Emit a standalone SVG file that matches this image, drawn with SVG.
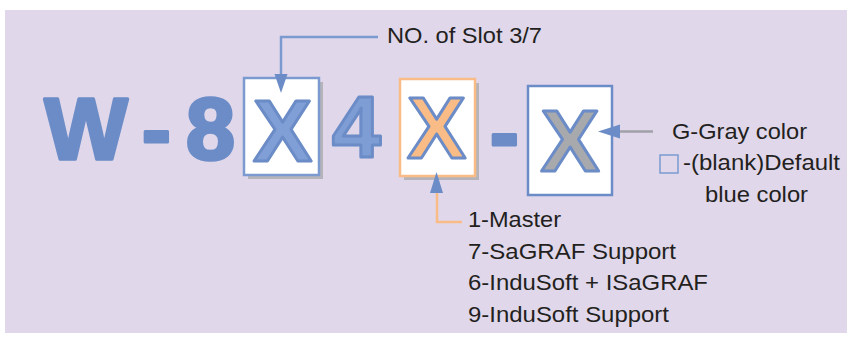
<svg xmlns="http://www.w3.org/2000/svg" width="847" height="340" viewBox="0 0 847 340">
<style>
.big{font-family:"Liberation Sans",Arial,sans-serif;font-weight:bold;font-size:88px;text-anchor:middle;stroke-linejoin:round}
.lbl{font-family:"Liberation Sans",Arial,sans-serif;font-size:22px;fill:#231f20}
.shadow{fill:#b4b4ba}
.box{fill:#ffffff;stroke-width:2.5}
.head{fill:#6b8cc7}
</style>
<rect x="0" y="0" width="847" height="340" fill="#ffffff"/>
<rect x="5" y="10" width="842" height="323" fill="#e0d7ea"/>
<g id="prefix">
<text class="big" x="86" y="159" fill="#6b8cc7" stroke="#6b8cc7" stroke-width="3.5">W</text>
<text class="big" x="156.5" y="159" fill="#6b8cc7" stroke="#6b8cc7" stroke-width="3">-</text>
<text class="big" x="210.5" y="159" fill="#6b8cc7" stroke="#6b8cc7" stroke-width="3.5">8</text>
</g>
<g id="slot-box">
<rect class="shadow" x="248" y="82" width="75" height="97"/>
<rect class="box" x="244" y="78" width="75" height="97" stroke="#7b9ad0"/>
<text class="big" x="282.5" y="161" fill="#809fd6" stroke="#6b8cc7" stroke-width="3">X</text>
</g>
<g id="four">
<text class="big" x="356.5" y="157" fill="#7e9dd4" stroke="#6b8cc7" stroke-width="3">4</text>
</g>
<g id="type-box">
<rect class="shadow" x="404" y="83" width="75" height="97"/>
<rect class="box" x="400" y="79" width="75" height="97" stroke="#f9bc86"/>
<text class="big" x="436.5" y="158" fill="#f9bc86" stroke="#6b8cc7" stroke-width="3">X</text>
</g>
<g id="dash2">
<text class="big" x="504.5" y="162" fill="#6b8cc7" stroke="#6b8cc7" stroke-width="3">-</text>
</g>
<g id="color-box">
<rect class="box" x="528" y="86" width="84" height="109" stroke="#6b8cc7"/>
<text class="big" x="570" y="171" fill="#a7a9ac" stroke="#6b8cc7" stroke-width="3">X</text>
</g>
<g id="connectors" fill="none" stroke-width="2.5">
<path d="M378,37 H281 V76" stroke="#7b9ad0"/>
<polygon class="head" stroke="none" points="281,93 274.5,74 287.5,74"/>
<path d="M462,222 H437 V192" stroke="#f9bc86"/>
<polygon class="head" stroke="none" points="436.5,172 430,193 443,193"/>
<path d="M653,131.5 H617" stroke="#a0a0a8"/>
<polygon class="head" stroke="none" points="598,131.5 620,124.5 620,138.5"/>
</g>
<g id="slot-label">
<text class="lbl" x="387" y="43" textLength="155" lengthAdjust="spacingAndGlyphs">NO. of Slot 3/7</text>
</g>
<g id="color-label">
<text class="lbl" x="672" y="139" textLength="135" lengthAdjust="spacingAndGlyphs">G-Gray color</text>
<rect x="660" y="155" width="18" height="18" fill="none" stroke="#7b9ad0" stroke-width="1.5"/>
<text class="lbl" x="683" y="170" textLength="157" lengthAdjust="spacingAndGlyphs">-(blank)Default</text>
<text class="lbl" x="705" y="202" textLength="103" lengthAdjust="spacingAndGlyphs">blue color</text>
</g>
<g id="type-label">
<text class="lbl" x="468" y="227" textLength="93" lengthAdjust="spacingAndGlyphs">1-Master</text>
<text class="lbl" x="468" y="259" textLength="208" lengthAdjust="spacingAndGlyphs">7-SaGRAF Support</text>
<text class="lbl" x="468" y="290" textLength="240" lengthAdjust="spacingAndGlyphs">6-InduSoft + ISaGRAF</text>
<text class="lbl" x="468" y="322" textLength="201" lengthAdjust="spacingAndGlyphs">9-InduSoft Support</text>
</g>
</svg>
